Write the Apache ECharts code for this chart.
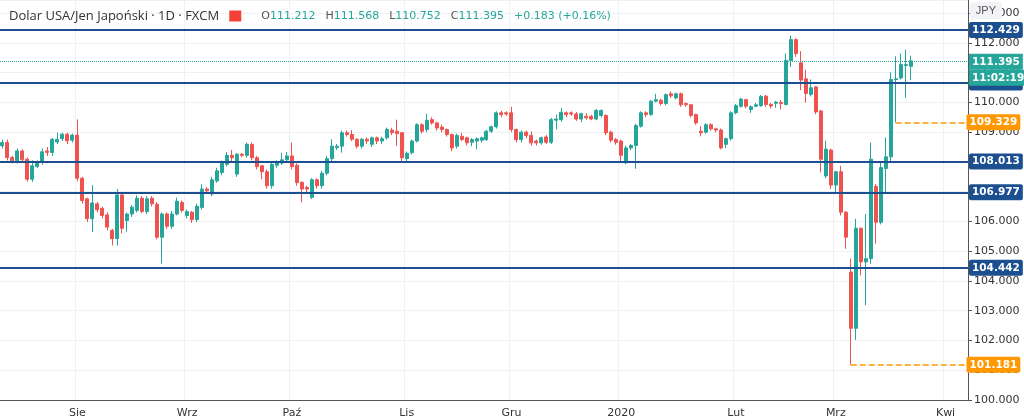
<!DOCTYPE html>
<html>
<head>
<meta charset="utf-8">
<script src="https://cdn.jsdelivr.net/npm/echarts@6/dist/echarts.min.js"></script>
<style>
  html, body { margin: 0; padding: 0; background: #fff; }
  #chart { width: 1024px; height: 420px; }
</style>
</head>
<body>
<div id="chart"></div>
<script>
// dzienne świece USDJPY: [open, close, low, high]
const ohlc = [
  [108.54,108.65,108.45,108.75],[108.65,108.15,108.05,108.75],[108.15,108.04,107.95,108.2],[108.04,108.37,107.95,108.45],
  [108.37,108.07,107.98,108.42],[108.09,107.42,107.34,108.15],[107.42,107.87,107.33,108.05],[107.84,108.00,107.8,108.05],
  [107.98,108.34,107.9,108.45],[108.37,108.32,108.2,108.5],[108.32,108.76,108.2,108.8],[108.67,108.76,108.6,108.99],
  [108.78,108.93,108.7,108.98],[108.93,108.71,108.6,108.98],[108.73,108.90,108.65,108.95],[108.90,107.45,107.35,109.43],
  [107.45,106.70,106.6,107.5],[106.76,106.09,105.98,106.8],[106.09,106.62,105.64,107.22],[106.59,106.39,106.3,106.65],
  [106.44,106.20,106.1,106.5],[106.22,105.81,105.7,106.3],[105.70,105.42,105.19,105.75],[105.42,106.89,105.19,107.09],
  [106.89,105.77,105.6,106.95],[106.03,106.25,105.65,106.3],[106.25,106.48,106.15,106.55],[106.37,106.78,106.3,106.88],
  [106.78,106.33,106.28,106.85],[106.33,106.76,106.25,106.85],[106.78,106.59,106.5,106.85],[106.58,105.47,105.4,106.65],
  [105.47,106.25,104.58,106.3],[106.25,105.84,105.75,106.3],[105.84,106.25,105.75,106.35],[106.25,106.68,106.2,106.8],
  [106.64,106.37,106.3,106.7],[106.20,106.33,106.1,106.4],[106.31,106.06,105.95,106.35],[106.06,106.51,105.98,106.6],
  [106.47,107.09,106.4,107.25],[107.09,107.03,106.95,107.15],[106.92,107.40,106.85,107.5],[107.36,107.70,107.3,107.8],
  [107.64,107.96,107.55,108.05],[107.92,108.22,107.85,108.33],[108.22,108.14,108.03,108.4],[107.59,108.26,107.5,108.3],
  [108.26,108.22,108.15,108.3],[108.22,108.59,108.15,108.65],[108.59,108.14,108.05,108.65],[108.14,107.84,107.75,108.2],
  [107.87,107.67,107.42,107.9],[107.67,107.20,107.10,107.75],[107.20,107.92,107.1,108.0],[107.89,107.98,107.8,108.05],
  [107.96,108.07,107.9,108.31],[108.07,108.20,108.0,108.33],[108.20,107.84,107.75,108.65],[107.89,107.31,107.2,107.95],
  [107.31,107.09,106.64,107.35],[107.14,107.09,106.95,107.2],[106.81,107.40,106.75,107.45],[107.40,107.20,107.1,107.45],
  [107.20,107.62,107.1,107.7],[107.62,108.11,107.55,108.2],[108.11,108.53,108.0,108.76],[108.48,108.53,108.4,108.6],
  [108.53,108.98,108.31,109.05],[108.98,108.92,108.85,109.05],[108.92,108.76,108.7,109.07],[108.76,108.53,108.45,108.8],
  [108.53,108.76,108.45,108.8],[108.76,108.70,108.6,108.82],[108.59,108.81,108.5,108.85],[108.81,108.70,108.6,108.85],
  [108.70,108.78,108.6,108.85],[108.81,109.09,108.75,109.15],[109.07,108.98,108.9,109.15],[109.03,108.95,108.53,109.42],
  [108.98,108.14,108.03,109.0],[108.11,108.29,108.03,108.35],[108.31,108.70,108.25,108.75],[108.70,109.25,108.65,109.3],
  [109.25,109.03,108.95,109.3],[109.09,109.40,109.0,109.62],[109.42,109.31,109.25,109.5],[109.31,109.14,109.05,109.35],
  [109.17,109.09,109.0,109.25],[109.09,108.92,108.85,109.12],[108.92,108.47,108.36,108.95],[108.53,108.89,108.45,108.95],
  [108.86,108.75,108.7,108.98],[108.81,108.64,108.55,108.85],[108.66,108.75,108.53,108.8],[108.70,108.78,108.42,108.82],
  [108.73,108.81,108.65,108.85],[108.75,109.03,108.7,109.08],[109.03,109.18,108.98,109.22],[109.18,109.65,109.12,109.7],
  [109.65,109.59,109.5,109.72],[109.65,109.61,109.55,109.7],[109.65,109.09,109.0,109.85],[109.09,108.75,108.65,109.12],
  [108.75,109.00,108.65,109.05],[109.00,108.89,108.8,109.05],[108.89,108.64,108.55,109.03],[108.70,108.64,108.55,108.75],
  [108.64,108.81,108.58,108.85],[108.84,108.66,108.6,108.9],[108.66,109.42,108.6,109.48],[109.40,109.44,109.09,109.59],
  [109.42,109.67,109.35,109.81],[109.65,109.59,109.5,109.7],[109.65,109.61,109.55,109.7],[109.61,109.44,109.38,109.68],
  [109.44,109.62,109.33,109.65],[109.53,109.48,109.42,109.64],[109.53,109.44,109.4,109.58],[109.44,109.73,109.4,109.78],
  [109.56,109.73,109.5,109.76],[109.56,108.98,108.9,109.6],[109.00,108.73,108.65,109.05],[108.75,108.66,108.58,108.8],
  [108.70,108.22,107.97,108.75],[107.97,108.47,107.92,108.55],[108.47,108.55,108.4,108.6],[108.55,109.22,107.77,109.28],
  [109.20,109.65,109.15,109.7],[109.65,109.59,109.5,109.7],[109.59,110.04,109.55,110.08],[110.04,110.09,110.0,110.29],
  [110.07,109.96,109.9,110.12],[109.96,110.26,109.9,110.3],[110.29,110.22,110.15,110.37],[110.15,110.29,110.1,110.33],
  [110.29,109.92,109.85,110.33],[109.96,109.92,109.85,110.0],[109.92,109.56,109.5,109.95],[109.59,109.31,109.25,109.62],
  [109.03,108.98,108.86,109.2],[109.00,109.25,108.95,109.3],[109.25,109.11,109.05,109.3],[109.11,109.07,109.0,109.15],
  [109.07,108.47,108.42,109.12],[108.59,108.78,108.47,108.82],[108.78,109.65,108.72,109.7],[109.65,109.89,109.6,109.95],
  [109.87,110.11,109.82,110.15],[110.09,109.87,109.8,110.12],[109.76,109.85,109.65,109.9],[109.87,109.92,109.85,109.98],
  [109.89,110.20,109.85,110.25],[110.21,109.93,109.85,110.25],[109.93,109.88,109.8,109.98],[109.97,110.01,109.82,110.05],
  [110.00,109.96,109.76,110.08],[109.93,111.41,109.9,111.64],[111.41,112.11,111.19,112.24],[112.11,111.64,111.53,112.15],
  [111.33,110.75,110.41,111.72],[110.79,110.30,109.99,111.1],[110.27,110.49,110.2,110.77],[110.52,109.68,109.6,110.55],
  [109.71,108.09,107.65,109.75],[107.53,108.43,107.45,108.71],[108.40,107.22,107.09,108.45],[107.22,107.67,106.98,107.7],
  [107.67,106.31,106.2,107.87],[106.31,105.47,105.08,106.35],[104.30,102.41,101.181,104.75],[102.41,105.77,102.02,106.09],
  [105.77,104.64,104.19,105.8],[104.64,104.75,103.19,106.25],[104.75,108.09,104.58,108.65],[107.18,105.97,105.25,107.25],
  [105.97,107.81,105.9,107.98],[107.78,108.17,106.92,108.82],[108.17,110.77,107.98,111.01],[110.77,110.79,109.329,111.55],
  [110.82,111.27,110.77,111.64],[111.24,111.27,110.15,111.77],[111.212,111.395,110.752,111.568]
];
const levels = [112.429, 110.666, 108.013, 106.977, 104.442];
const lowLevels = [109.329, 101.181];
const lastPrice = 111.395;
const countdown = '11:02:19';
const monthNames = ['Sty', 'Lut', 'Mrz', 'Kwi', 'Maj', 'Cze', 'Lip', 'Sie', 'Wrz', 'Paź', 'Lis', 'Gru'];
const futureSlots = 11;

// dni robocze od 11 lipca 2019
const dates = [];
{
  const d = new Date(Date.UTC(2019, 6, 11));
  while (dates.length < ohlc.length + futureSlots) {
    const wd = d.getUTCDay();
    if (wd !== 0 && wd !== 6) dates.push(d.toISOString().slice(0, 10));
    d.setUTCDate(d.getUTCDate() + 1);
  }
}
const monthStart = dates.map((s, i) => i > 0 && s.slice(5, 7) !== dates[i - 1].slice(5, 7));
function monthLabel(s) {
  const m = +s.slice(5, 7);
  return m === 1 ? s.slice(0, 4) : monthNames[m - 1];
}

const BLUE = '#1c4f8f', ORANGE = '#ff9800', TEAL = '#26a69a';
const lastIdx = dates.length - 1;
const lows = ohlc.map(c => c[2]);

function boxLabel(bg, v) {
  return {
    show: true, position: 'end', distance: 1, color: '#fff', backgroundColor: bg,
    fontSize: 10.5, fontWeight: 'bold', fontFamily: 'DejaVu Sans', padding: [3, 3, 2, 3],
    borderRadius: 2, formatter: v.toFixed(3),
  };
}

const chart = echarts.init(document.getElementById('chart'), null, { renderer: 'canvas' });
chart.setOption({
  animation: false,
  title: {
    left: 4, top: 2,
    text: '{n|Dolar USA/Jen Japoński · 1D · FXCM}  {f|  }    {k|O}{v|111.212}  {k|H}{v|111.568}  {k|L}{v|110.752}  {k|C}{v|111.395}  {v|+0.183 (+0.16%)}',
    textStyle: {
      fontWeight: 'normal',
      rich: {
        n: { fontSize: 13, color: '#333', fontFamily: 'Open Sans', fontWeight: 'normal' },
        f: { backgroundColor: '#f44336', width: 12, height: 11 },
        k: { fontSize: 11, color: '#555', fontFamily: 'DejaVu Sans', fontWeight: 'normal' },
        v: { fontSize: 11, color: TEAL, fontFamily: 'DejaVu Sans', fontWeight: 'normal' },
      },
    },
  },
  graphic: [{
    type: 'text', right: 22, top: 2, z: 100,
    style: { text: 'JPY', fontSize: 11, fill: '#555', backgroundColor: '#f1f3f6', padding: [3, 6], borderRadius: 3 },
  }],
  grid: { left: 0, right: 56, top: 0, bottom: 20 },
  xAxis: {
    type: 'category',
    data: dates,
    axisLine: { lineStyle: { color: '#555' } },
    axisTick: { show: false },
    axisLabel: {
      interval: (i) => monthStart[i], formatter: monthLabel,
      color: '#333', fontSize: 11, fontFamily: 'DejaVu Sans',
    },
    splitLine: { show: true, interval: (i) => monthStart[i], lineStyle: { color: '#eef1f5' } },
  },
  yAxis: {
    type: 'value', position: 'right',
    min: 100, max: 113.44, interval: 1,
    axisLine: { show: true, lineStyle: { color: '#555' } },
    axisTick: { show: true, length: 4, lineStyle: { color: '#555' } },
    axisLabel: {
      color: '#333', fontSize: 11, fontFamily: 'DejaVu Sans', margin: 6,
      showMaxLabel: false, formatter: v => v.toFixed(3),
    },
    splitLine: { lineStyle: { color: '#eef1f5' } },
  },
  series: [{
    type: 'candlestick',
    data: ohlc,
    barWidth: '70%',
    itemStyle: { color: TEAL, color0: '#ef5350', borderColor: TEAL, borderColor0: '#ef5350', borderWidth: 1 },
    markLine: {
      symbol: 'none', silent: true, animation: false, precision: 3,
      data: [
        ...levels.map(v => ({ yAxis: v, lineStyle: { color: BLUE, width: 2, type: 'solid' }, label: boxLabel(BLUE, v) })),
        {
          yAxis: lastPrice, lineStyle: { color: TEAL, width: 1, type: 'dotted' },
          label: {
            show: true, position: 'end', distance: 1, offset: [0, 9],
            formatter: '{a|' + lastPrice.toFixed(3) + '}\n{a|' + countdown + '}',
            rich: { a: { backgroundColor: TEAL, color: '#fff', fontSize: 10.5, fontWeight: 'bold', fontFamily: 'DejaVu Sans', padding: [3, 3, 2, 3], lineHeight: 16 } },
          },
        },
        ...lowLevels.map(v => [
          { coord: [lows.indexOf(v), v], lineStyle: { color: ORANGE, width: 1.5, type: 'dashed' }, label: boxLabel(ORANGE, v) },
          { coord: [lastIdx, v] },
        ]),
      ],
    },
  }],
});
</script>
</body>
</html>
